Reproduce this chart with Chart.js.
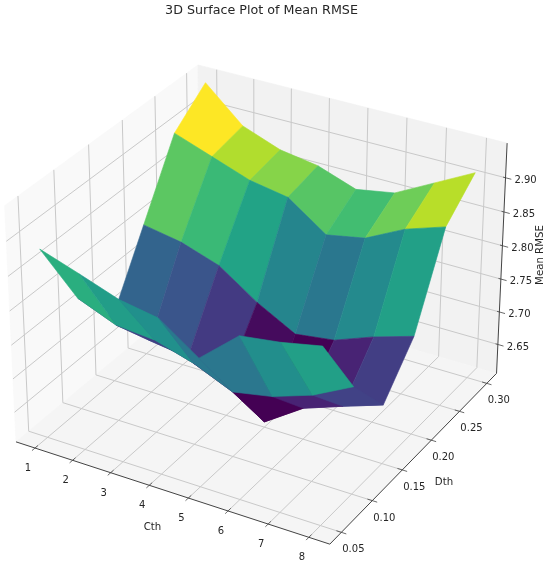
<!DOCTYPE html>
<html>
<head>
<meta charset="utf-8">
<title>3D Surface Plot of Mean RMSE</title>
<script src="https://cdn.jsdelivr.net/npm/chart.js@4"></script>
<style>
  html, body { margin: 0; padding: 0; background: #fff; }
  canvas { display: block; }
</style>
</head>
<body>
<canvas id="surfaceChart" width="550" height="568"></canvas>
<script>
// Grid of the surface
const cthValues = [1, 2, 3, 4, 5, 6, 7, 8];
const dthValues = [0.05, 0.1, 0.15, 0.2, 0.25, 0.3];

// Mean RMSE per Dth, one value per Cth
const rmseDth005 = [2.883, 2.864, 2.844, 2.834, 2.794, 2.843, 2.851, 2.863];
const rmseDth010 = [2.772, 2.749, 2.744, 2.727, 2.702, 2.713, 2.733, 2.763];
const rmseDth015 = [2.703, 2.684, 2.676, 2.655, 2.613, 2.652, 2.673, 2.693];
const rmseDth020 = [2.803, 2.793, 2.774, 2.735, 2.704, 2.712, 2.734, 2.752];
const rmseDth025 = [2.903, 2.883, 2.863, 2.853, 2.813, 2.824, 2.853, 2.872];
const rmseDth030 = [2.943, 2.893, 2.872, 2.863, 2.843, 2.853, 2.883, 2.913];
const rmseRows = [rmseDth005, rmseDth010, rmseDth015, rmseDth020, rmseDth025, rmseDth030];

// Tick labels
const cthTicks = ["1", "2", "3", "4", "5", "6", "7", "8"];
const dthTicks = ["0.05", "0.10", "0.15", "0.20", "0.25", "0.30"];
const rmseTicks = ["2.65", "2.70", "2.75", "2.80", "2.85", "2.90"];

// Axis limits of the 3D box
const xLim = [0.49, 8.51];
const yLim = [0.03177, 0.31823];
const zLim = [2.605, 2.95];

const viridis = ["#440154", "#482475", "#414487", "#355f8d", "#2a788e", "#21918c",
  "#22a884", "#44bf70", "#7ad151", "#bddf26", "#fde725"];

function viridisColor(t) {
  const pos = Math.min(Math.max(t, 0), 1) * (viridis.length - 1);
  const i = Math.min(Math.floor(pos), viridis.length - 2);
  const f = pos - i;
  const a = viridis[i], b = viridis[i + 1];
  const mix = (s) => {
    const p = parseInt(a.substr(s, 2), 16), q = parseInt(b.substr(s, 2), 16);
    return Math.round(p + (q - p) * f);
  };
  return `rgb(${mix(1)}, ${mix(3)}, ${mix(5)})`;
}

// Same camera as a default matplotlib 3D axes: elev 30, azim -60, dist 10, box 4:4:3
const elev = (30 * Math.PI) / 180;
const azim = (-60 * Math.PI) / 180;
const boxScale = (1.8294640721620434 * 25) / 24 / Math.sqrt(41);
const box = [4 * boxScale, 4 * boxScale, 3 * boxScale];
const w = [Math.cos(elev) * Math.cos(azim), Math.cos(elev) * Math.sin(azim), Math.sin(elev)];
const u = [-w[1] / Math.cos(elev), w[0] / Math.cos(elev), 0];
const v = [w[1] * u[2] - w[2] * u[1], w[2] * u[0] - w[0] * u[2], w[0] * u[1] - w[1] * u[0]];
const dot = (a, b) => a[0] * b[0] + a[1] * b[1] + a[2] * b[2];

function project(x, y, z) {
  const p = [
    ((x - xLim[0]) / (xLim[1] - xLim[0]) - 0.5) * box[0],
    ((y - yLim[0]) / (yLim[1] - yLim[0]) - 0.5) * box[1],
    ((z - zLim[0]) / (zLim[1] - zLim[0]) - 0.5) * box[2],
  ];
  const depth = 10 - dot(w, p);
  return { x: dot(u, p) / depth, y: dot(v, p) / depth, depth };
}

function polyline(points, color, width) {
  return {
    data: points.map((p) => project(p[0], p[1], p[2])),
    showLine: true,
    fill: false,
    borderColor: color,
    borderWidth: width,
    pointRadius: 0,
    tension: 0,
    clip: false,
  };
}

function polygon(points, color, edge) {
  const data = points.map((p) => project(p[0], p[1], p[2]));
  data.push(data[0]);
  return {
    data,
    showLine: true,
    fill: "shape",
    backgroundColor: color,
    borderColor: edge,
    borderWidth: edge === color ? 0.6 : 0,
    pointRadius: 0,
    tension: 0,
    clip: false,
  };
}

const [x0, x1] = xLim, [y0, y1] = yLim, [z0, z1] = zLim;
const cthTickDelta = (x1 - x0) * 0.015;
const dthTickDelta = (y1 - y0) * 0.015;
const zValues = rmseTicks.map(Number);

// Back panes
const paneSets = [
  polygon([[x0, y0, z0], [x0, y1, z0], [x0, y1, z1], [x0, y0, z1]], "#f9f9f9", "#f9f9f9"),
  polygon([[x0, y1, z0], [x1, y1, z0], [x1, y1, z1], [x0, y1, z1]], "#f2f2f2", "#f2f2f2"),
  polygon([[x0, y0, z0], [x1, y0, z0], [x1, y1, z0], [x0, y1, z0]], "#f5f5f5", "#f5f5f5"),
];

// Grid lines on the panes
const gridColor = "#c9c9c9";
const gridSets = [];
cthValues.forEach((x) => {
  gridSets.push(polyline([[x, y0, z0], [x, y1, z0], [x, y1, z1]], gridColor, 1));
});
dthValues.forEach((y) => {
  gridSets.push(polyline([[x1, y, z0], [x0, y, z0], [x0, y, z1]], gridColor, 1));
});
zValues.forEach((z) => {
  gridSets.push(polyline([[x1, y1, z], [x0, y1, z], [x0, y0, z]], gridColor, 1));
});

// Axis lines and tick marks
const axisColor = "#444444";
const axisSets = [
  polyline([[x0, y0, z0], [x1, y0, z0]], axisColor, 1),
  polyline([[x1, y0, z0], [x1, y1, z0]], axisColor, 1),
  polyline([[x1, y1, z0], [x1, y1, z1]], axisColor, 1),
];
cthValues.forEach((x) => {
  axisSets.push(polyline([[x, y0 - dthTickDelta, z0], [x, y0 + dthTickDelta, z0]], axisColor, 0.8));
});
dthValues.forEach((y) => {
  axisSets.push(polyline([[x1 - cthTickDelta, y, z0], [x1 + cthTickDelta, y, z0]], axisColor, 0.8));
});
zValues.forEach((z) => {
  axisSets.push(polyline([[x1 - cthTickDelta * 0.5, y1, z], [x1 + cthTickDelta * 1.2, y1, z]], axisColor, 0.8));
});

// Surface facets, coloured by their mean value and sorted far to near
const facets = [];
for (let j = 0; j < dthValues.length - 1; j++) {
  for (let i = 0; i < cthValues.length - 1; i++) {
    const corners = [
      [cthValues[i], dthValues[j], rmseRows[j][i]],
      [cthValues[i + 1], dthValues[j], rmseRows[j][i + 1]],
      [cthValues[i + 1], dthValues[j + 1], rmseRows[j + 1][i + 1]],
      [cthValues[i], dthValues[j + 1], rmseRows[j + 1][i]],
    ];
    const mean = corners.reduce((s, c) => s + c[2], 0) / 4;
    const depth = corners.reduce((s, c) => s + project(c[0], c[1], c[2]).depth, 0) / 4;
    facets.push({ corners, mean, depth });
  }
}
const meanMin = Math.min(...facets.map((f) => f.mean));
const meanMax = Math.max(...facets.map((f) => f.mean));
facets.sort((a, b) => b.depth - a.depth);
const facetSets = facets.map((f) => {
  const color = viridisColor((f.mean - meanMin) / (meanMax - meanMin));
  return polygon(f.corners, color, color);
});

// Chart.js paints the highest order first
const allSets = [...paneSets, ...gridSets, ...axisSets, ...facetSets];
allSets.forEach((set, idx) => {
  set.order = allSets.length - idx;
});

const textPlugin = {
  id: "plotText",
  afterDatasetsDraw(chart) {
    const { ctx, scales } = chart;
    const at = (p3) => {
      const p = project(p3[0], p3[1], p3[2]);
      return [scales.x.getPixelForValue(p.x), scales.y.getPixelForValue(p.y)];
    };
    const put = (text, px, py, font, angle) => {
      ctx.save();
      ctx.translate(px, py);
      if (angle) ctx.rotate(angle);
      ctx.font = font;
      ctx.fillStyle = "#262626";
      ctx.textAlign = "center";
      ctx.textBaseline = "middle";
      ctx.fillText(text, 0, 0);
      ctx.restore();
    };
    const tickFont = '10px "DejaVu Sans"';
    const labelFont = '10.2px "DejaVu Sans"';
    cthValues.forEach((x, i) => {
      const [px, py] = at([x, y0, z0]);
      put(cthTicks[i], px - 7, py + 20.5, tickFont);
    });
    dthValues.forEach((y, i) => {
      const [px, py] = at([x1, y, z0]);
      put(dthTicks[i], px + 12, py + 17.5, tickFont);
    });
    zValues.forEach((z, i) => {
      const [px, py] = at([x1, y1, z]);
      put(rmseTicks[i], px + 20, py + 2.5, tickFont);
    });
    put("3D Surface Plot of Mean RMSE", 261.5, 11, '12.7px "DejaVu Sans"');
    put("Cth", 152.5, 527, labelFont);
    put("Dth", 444, 482.5, labelFont);
    put("Mean RMSE", 540, 255, labelFont, -Math.PI / 2);
  },
};

new Chart(document.getElementById("surfaceChart").getContext("2d"), {
  type: "scatter",
  data: { datasets: allSets },
  options: {
    responsive: false,
    animation: false,
    parsing: false,
    events: [],
    layout: { padding: 0 },
    plugins: { legend: { display: false }, tooltip: { enabled: false }, title: { display: false } },
    scales: {
      x: { type: "linear", display: false, min: (0 - 260.7) / 3020, max: (550 - 260.7) / 3020 },
      y: { type: "linear", display: false, min: (293 - 568) / 3014, max: 293 / 3014 },
    },
  },
  plugins: [textPlugin],
});
</script>
</body>
</html>
